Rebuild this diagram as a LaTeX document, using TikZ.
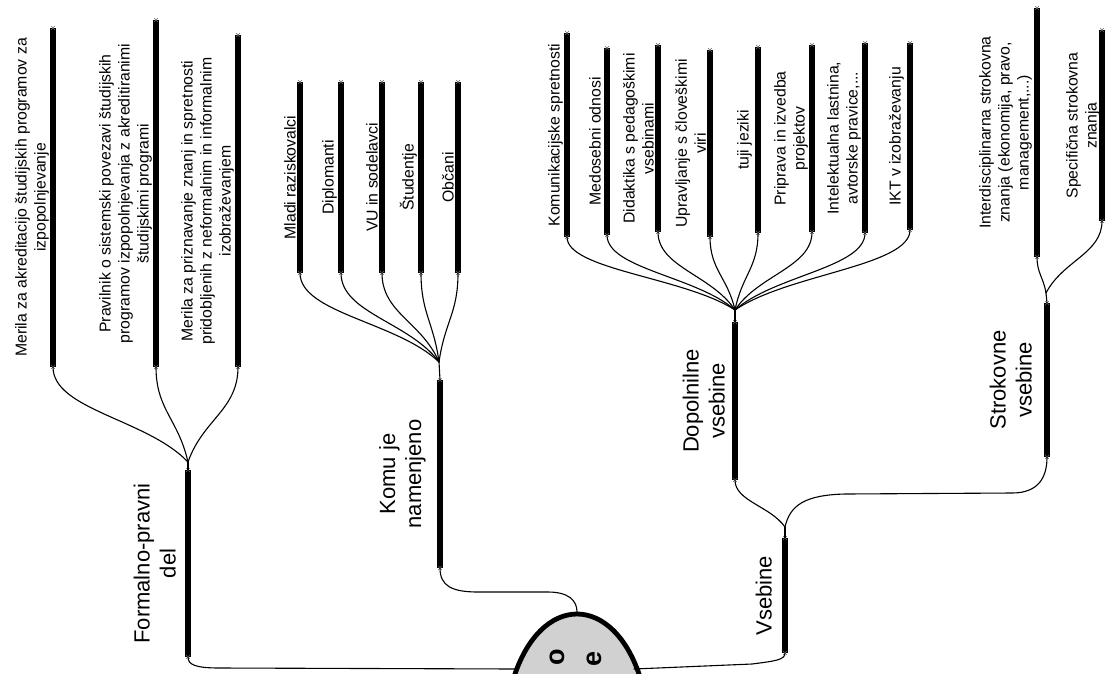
\documentclass[tikz,border=0pt]{standalone}
\usepackage{fontspec}
\setmainfont{Liberation Sans}
\usetikzlibrary{calc}
\newcommand\mmbar[4]{%
  \coordinate (#1T) at (#2,#3);
  \coordinate (#1B) at (#2,#4);
  \draw[barsty] (#1B) -- (#1T);
  \draw plot[xm] coordinates {(#1B) (#1T)};}
\newcommand\mmlabel[4]{%
  \node[#2] (#1L) at ($(#1B)!0.5!(#1T)+(#3,0)$) {#4};}
\newcommand\branchcurve[2]{%
  \draw[conn] let \p1=(#1), \p2=(#2) in (\p1) .. controls ({\x1+0.3*(\x2-\x1)},{\y1+0.45*(\y2-\y1)}) and (\x2,{\y2-0.45*(\y2-\y1)}) .. (\p2);}
\begin{document}
\begin{tikzpicture}[x=1pt,y=-1pt,
  barsty/.style={line width=6pt},
  conn/.style={line width=1.1pt, line cap=round},
  xm/.style={only marks, mark=x, mark size=2.6pt, mark options={line width=0.5pt, draw=black!60}},
  leaf/.style={rotate=90, anchor=south, inner sep=0pt, align=center, font=\fontsize{15.8}{19}\selectfont},
  main/.style={rotate=90, anchor=south, inner sep=0pt, align=center, font=\fontsize{22}{26}\selectfont},
  rootletter/.style={rotate=90, inner sep=0pt, font=\bfseries\fontsize{27}{27}\selectfont}]
\useasboundingbox (0,0) rectangle (1110,673);

% root
\filldraw[fill=black!18, line width=4.8pt] (513,680) .. controls (540,592) and (614,592) .. (641,680);
\coordinate (domeL) at (518,669);
\coordinate (domeR) at (634,669);
\coordinate (domeT) at (577,612);
\node[rootletter] (rootA) at (557,657) {o};
\node[rootletter] (rootB) at (594,659) {e};

% main branches
\mmbar{fp}{188}{470}{657}
\coordinate (fpH) at (188,462);
\mmbar{km}{440}{380}{568}
\coordinate (kmH) at (439,362);
\mmbar{vs}{785}{538}{653}
\coordinate (vsH) at (785,527);
\mmbar{dv}{735}{322}{480}
\coordinate (dvH) at (735,310);
\mmbar{sv}{1047}{303}{457}
\coordinate (svH) at (1046,293);

\mmlabel{fp}{main}{-12}{Formalno-pravni\\del}
\mmlabel{km}{main}{-14}{Komu je\\namenjeno}
\mmlabel{vs}{main}{-13}{Vsebine}
\mmlabel{dv}{main}{-10}{Dopolnilne\\vsebine}
\mmlabel{sv}{main}{-15}{Strokovne\\vsebine}

\draw[conn] (domeL) -- (220,668) .. controls (196,668) and (188,665) .. (fpB);
\draw[conn] (kmB) .. controls (440,586) and (452,592) .. (478,592) -- (548,592) .. controls (568,592) and (577,600) .. (domeT);
\draw[conn] (domeR) -- (752,664) .. controls (775,661) and (785,660) .. (vsB);
\foreach \q in {fp,km,vs,dv,sv} {\draw[conn] (\q T) -- (\q H);}
\branchcurve{vsH}{dvB}
\draw[conn] (vsH) .. controls (790,505) and (805,495) .. (845,494) -- (1012,493) .. controls (1038,493) and (1047,478) .. (svB);

% Formalno-pravni del
\mmbar{fa}{53}{28}{367}
\mmbar{fb}{156}{20}{367}
\mmbar{fc}{238}{35}{367}
\mmlabel{fa}{leaf}{-4}{Merila za akreditacijo študijskih programov za\\izpopolnjevanje}
\mmlabel{fb}{leaf}{-4}{Pravilnik o sistemski povezavi študijskih\\programov izpopolnjevanja z akreditiranimi\\študijskimi programi}
\mmlabel{fc}{leaf}{-4}{Merila za priznavanje znanj in spretnosti\\pridobljenih z neformalnim in informalnim\\izobraževanjem}
\foreach \q in {fa,fb,fc} {\branchcurve{fpH}{\q B}}

% Komu je namenjeno
\mmbar{ka}{300}{82}{273}
\mmbar{kb}{341}{82}{273}
\mmbar{kc}{382}{82}{273}
\mmbar{kd}{421}{82}{273}
\mmbar{ke}{458}{82}{273}
\mmlabel{ka}{leaf}{-4}{Mladi raziskovalci}
\mmlabel{kb}{leaf}{-4}{Diplomanti}
\mmlabel{kc}{leaf}{-4}{VU in sodelavci}
\mmlabel{kd}{leaf}{-4}{Študentje}
\mmlabel{ke}{leaf}{-4}{Občani}
\foreach \q in {ka,kb,kc,kd,ke} {\branchcurve{kmH}{\q B}}

% Dopolnilne vsebine
\mmbar{da}{567}{33}{237}
\mmbar{db}{607}{48}{235}
\mmbar{dc}{658}{45}{232}
\mmbar{dd}{710}{50}{237}
\mmbar{de}{758}{47}{233}
\mmbar{df}{812}{45}{232}
\mmbar{dg}{865}{43}{233}
\mmbar{dh}{910}{43}{230}
\mmlabel{da}{leaf}{-4}{Komunikacijske spretnosti}
\mmlabel{db}{leaf}{-6}{Medosebni odnosi}
\mmlabel{dc}{leaf}{-4}{Didaktika s pedagoškimi\\vsebinami}
\mmlabel{dd}{leaf}{-4}{Upravljanje s človeškimi\\viri}
\mmlabel{de}{leaf}{-6}{tuji jeziki}
\mmlabel{df}{leaf}{-4}{Priprava in izvedba\\projektov}
\mmlabel{dg}{leaf}{-4}{Intelektualna lastnina,\\avtorske pravice,...}
\mmlabel{dh}{leaf}{-6}{IKT v izobraževanju}
\foreach \q in {da,db,dc,dd,de,df,dg,dh} {\branchcurve{dvH}{\q B}}

% Strokovne vsebine
\mmbar{sa}{1037}{8}{257}
\mmbar{sb}{1102}{30}{221}
\mmlabel{sa}{leaf}{-5}{Interdisciplinarna strokovna\\znanja (ekonomija, pravo,\\management,...)}
\mmlabel{sb}{leaf}{-2}{Specifična strokovna\\znanja}
\foreach \q in {sa,sb} {\branchcurve{svH}{\q B}}
\end{tikzpicture}
\end{document}
